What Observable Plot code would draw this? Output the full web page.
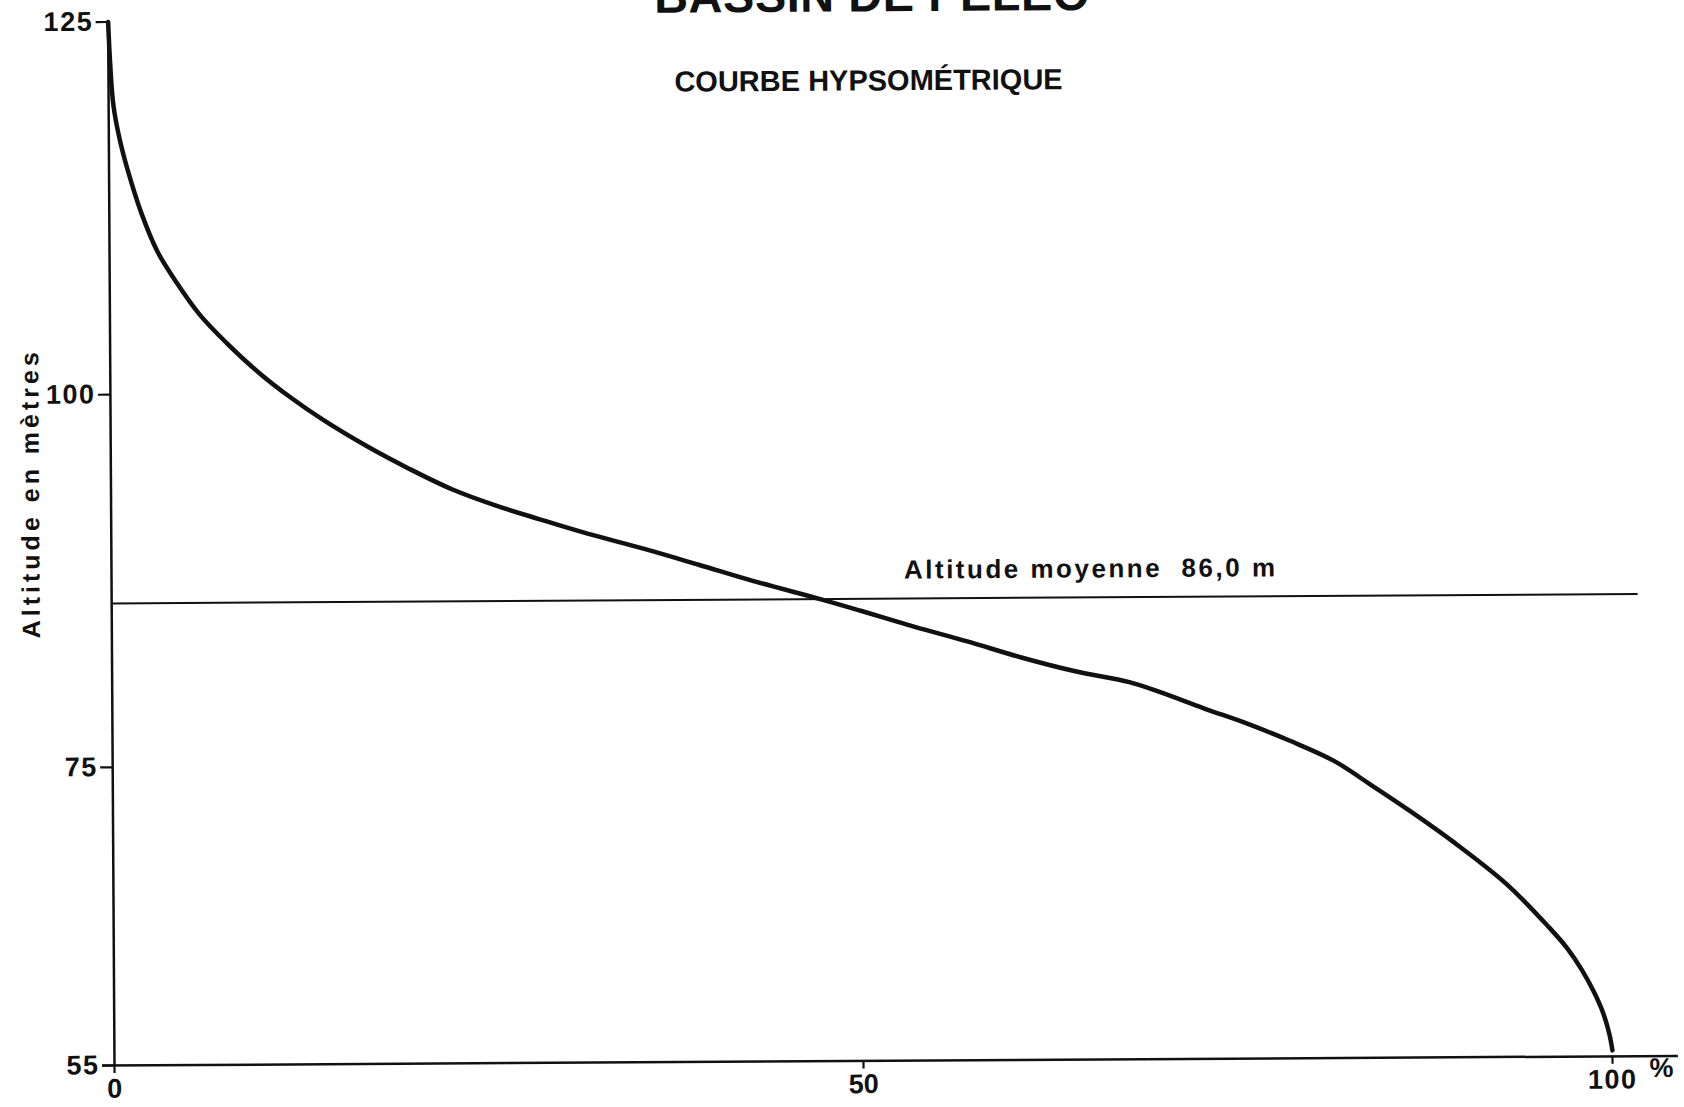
<!DOCTYPE html>
<html lang="fr">
<head>
<meta charset="utf-8">
<script src="https://cdn.jsdelivr.net/npm/d3@7"></script>
<script src="https://cdn.jsdelivr.net/npm/@observablehq/plot@0.6"></script>
<style>
  html, body { margin: 0; padding: 0; background: #fff; overflow: hidden; }
  #chart svg { display: block; }
  /* heavier axis strokes, like an inked drawing */
  #chart g[aria-label^="x-axis"] path, #chart g[aria-label^="y-axis"] path,
  #chart g[aria-label^="x-axis"] line, #chart g[aria-label^="y-axis"] line { stroke-width: 2.2px; }
</style>
</head>
<body>
<div id="chart"></div>
<script>
// Texts
const title = "BASSIN DE PELEO";
const subtitle = "COURBE HYPSOMÉTRIQUE";
const yLabel = "Altitude en mètres";
const xUnit = "%";

// Hypsometric curve: share of the basin area (%) lying above each altitude (m)
const areaPct = [0, 0.12, 0.32, 0.73, 1.29, 2.13, 3.19, 4.46, 6.02, 7.8, 9.94, 12.08, 14.22, 17.08, 19.93,
  22.8, 25.7, 28.5, 31.4, 35.7, 39.2, 42.8, 47.3, 50.0, 53.6, 57.1, 60.7, 64.3, 67.9,
  70.0, 72.9, 75.8, 78.6, 81.5, 84.0, 86.5, 89.4, 93.0, 95.8, 97.0, 98.0, 98.8, 99.4, 99.8, 100];
const altitude = [125, 122.2, 119.4, 117.1, 114.9, 112.2, 109.6, 107.5, 105.3, 103.4, 101.4, 99.7, 98.2, 96.45, 94.9,
  93.5, 92.4, 91.5, 90.6, 89.4, 88.35, 87.25, 86.0, 85.2, 84.1, 83.1, 82.0, 81.05, 80.3,
  79.6, 78.5, 77.45, 76.3, 74.95, 73.3, 71.6, 69.5, 66.6, 63.7, 62.3, 60.8, 59.3, 57.9, 56.5, 55.4];

// Mean altitude of the basin (m)
const meanAltitude = 86.0;

// Axis ticks
const xTicks = [0, 50, 100];
const yTicks = [55, 75, 100, 125];

const curve = areaPct.map((p, i) => ({p, z: altitude[i]}));
const frDecimal = v => v.toFixed(1).replace(".", ",");
const meanText = `Altitude moyenne  ${frDecimal(meanAltitude)} m`;
const font = "'Liberation Sans', Arial, Helvetica, sans-serif";

const chart = Plot.plot({
  width: 1684,
  height: 1107,
  marginLeft: 114,
  marginRight: 72,
  marginTop: 21.5,
  marginBottom: 42,
  style: {fontFamily: font, fontSize: "27px", fontWeight: "bold", color: "#111", background: "#fff", overflow: "visible"},
  x: {domain: [0, 100], ticks: xTicks, tickSize: 8, tickPadding: 5, tickFormat: d => String(d), label: null},
  y: {domain: [55, 125], ticks: yTicks, tickSize: 12, tickPadding: 3, tickFormat: d => String(d), label: null},
  marks: [
    // axis lines
    Plot.ruleX([0], {y1: 55, y2: 125, strokeWidth: 2.5, stroke: "#111"}),
    Plot.ruleY([55], {x1: -0.8, x2: 104.4, strokeWidth: 2.5, stroke: "#111"}),
    // mean altitude
    Plot.ruleY([meanAltitude], {x1: 0, x2: 101.9, strokeWidth: 2, stroke: "#111"}),
    Plot.text([meanAltitude], {
      x: 52.9, y: d => d, text: () => meanText,
      textAnchor: "start", lineAnchor: "bottom", dy: -20, fontSize: 26, fill: "#111"
    }),
    // hypsometric curve
    Plot.line(curve, {
      x: "p", y: "z", curve: "catmull-rom", stroke: "#111", strokeWidth: 4.5,
      strokeLinecap: "round", strokeLinejoin: "round"
    }),
    // unit of the x axis
    Plot.text([{x: 100, y: 55}], {
      x: "x", y: "y", text: () => xUnit, textAnchor: "start", lineAnchor: "bottom",
      dx: 37, dy: 21, fontSize: 27, fill: "#111"
    }),
    // y axis title
    Plot.text([yLabel], {
      frameAnchor: "left", textAnchor: "middle", rotate: -90, dx: -72, dy: -51, lineAnchor: "bottom",
      fontSize: 25, fill: "#111"
    }),
    // title and subtitle
    Plot.text([title], {
      frameAnchor: "top", textAnchor: "middle", dx: 15, dy: -6, lineAnchor: "bottom", fontSize: 47, fill: "#111"
    }),
    Plot.text([subtitle], {
      frameAnchor: "top", textAnchor: "middle", dx: 11, dy: 73, lineAnchor: "bottom", fontSize: 29, fill: "#111"
    })
  ]
});

// spaced-out lettering for the hand-set labels
const spacing = new Map([[meanText, "2.5px"], [yLabel, "4px"], [title, "0.5px"]]);
for (const t of yTicks) spacing.set(String(t), "1.5px");
d3.select(chart).selectAll("text").each(function() {
  const s = spacing.get(this.textContent);
  if (s) d3.select(this).style("letter-spacing", s);
});

// the sheet sits a little askew, pivoting on the origin of the axes
chart.style.transformOrigin = "114px 1065px";
chart.style.transform = "rotate(-0.35deg)";

document.getElementById("chart").append(chart);
</script>
</body>
</html>
